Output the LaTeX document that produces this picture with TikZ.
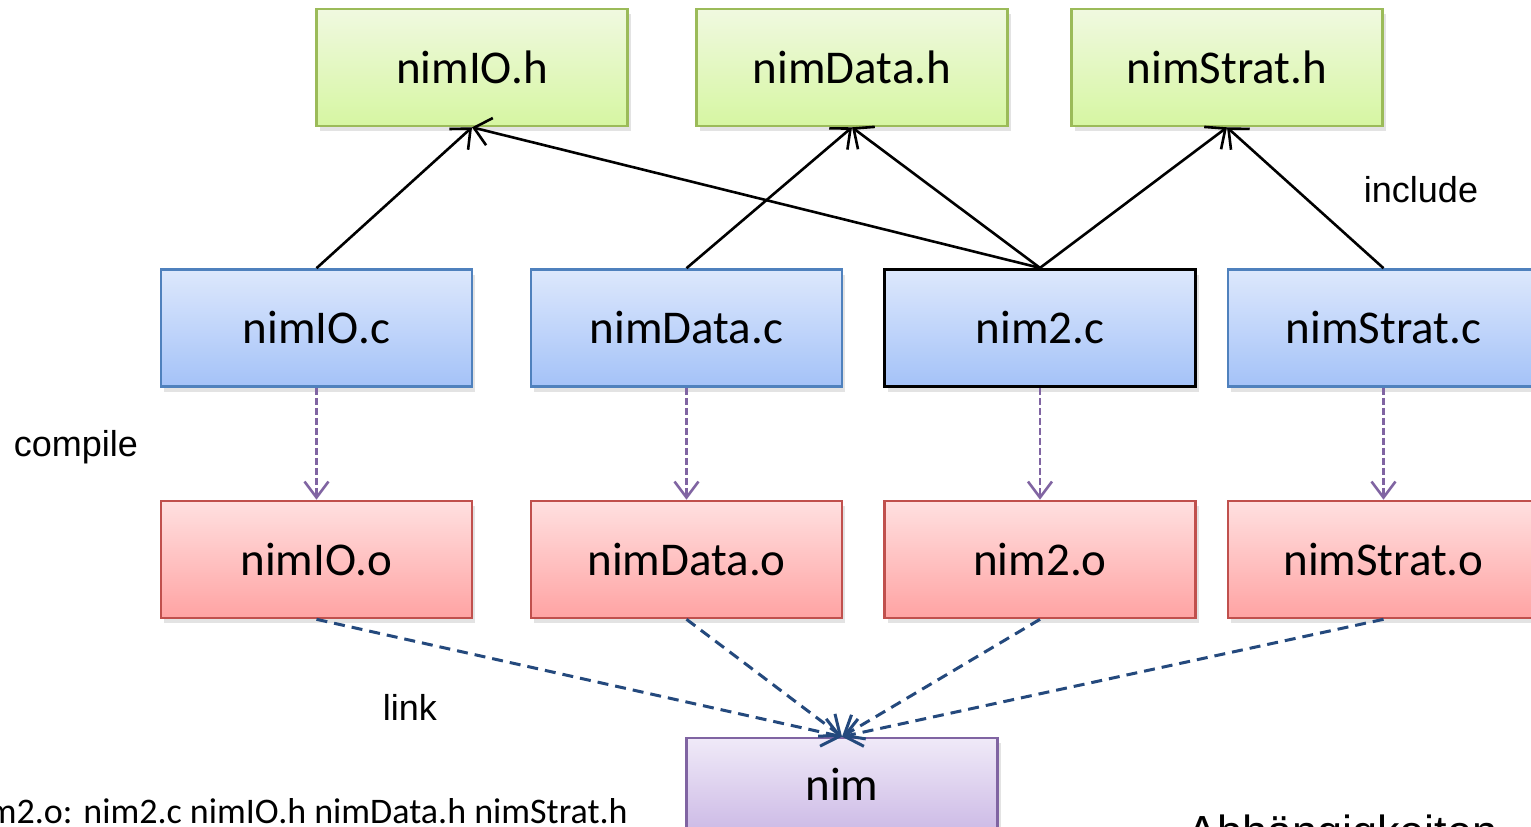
\documentclass[tikz,border=0pt]{standalone}
\usepackage{fontspec}
\setmainfont{Carlito}
\newfontfamily\arialf{Liberation Sans}
\usetikzlibrary{arrows.meta,shadows}
\definecolor{grnB}{HTML}{9BBB59}
\definecolor{grnT}{HTML}{F0F9E0}
\definecolor{grnD}{HTML}{D6F6A2}
\definecolor{bluB}{HTML}{4F81BD}
\definecolor{bluT}{HTML}{DDE8FC}
\definecolor{bluD}{HTML}{A4C2F8}
\definecolor{redB}{HTML}{C0504D}
\definecolor{redT}{HTML}{FFE0E0}
\definecolor{redD}{HTML}{FFA3A3}
\definecolor{purB}{HTML}{8064A2}
\definecolor{purT}{HTML}{F0EAF8}
\definecolor{purD}{HTML}{CDBBE6}
\definecolor{lnkc}{HTML}{24497D}
\tikzset{
  box/.style={draw, line width=2.6pt, minimum width=311pt, minimum height=117pt, inner sep=0pt,
    font=\fontsize{47}{56}\selectfont,
    drop shadow={opacity=0.22, shadow xshift=3pt, shadow yshift=-5pt}},
  hbox/.style={box, draw=grnB, top color=grnT, bottom color=grnD},
  cbox/.style={box, draw=bluB, top color=bluT, bottom color=bluD},
  obox/.style={box, draw=redB, top color=redT, bottom color=redD},
  ebox/.style={box, draw=purB, top color=purT, bottom color=purD},
  inc/.style={draw=black, line width=2.6pt, -{Straight Barb[length=16pt,width=28pt]}},
  comp/.style={draw=purB, line width=2.6pt, dash pattern=on 7pt off 3pt, -{Straight Barb[length=16pt,width=24pt]}},
  lnk/.style={draw=lnkc, line width=3pt, dash pattern=on 11pt off 7pt, -{Straight Barb[length=17pt,width=28pt]}},
  lbl/.style={font=\arialf\fontsize{36}{43}\selectfont, inner sep=0pt}
}
\begin{document}
\begin{tikzpicture}[x=1pt,y=-1pt]
\clip (0,0) rectangle (1531,827);
\fill[white] (0,0) rectangle (1531,827);
% header files
\node[hbox] (ioh) at (472,67.5) {nimIO.h};
\node[hbox] (dah) at (852,67.5) {nimData.h};
\node[hbox] (sth) at (1227,67.5) {nimStrat.h};
% sources
\node[cbox] (ioc) at (316.5,328) {nimIO.c};
\node[cbox] (dac) at (686.5,328) {nimData.c};
\node[cbox, draw=black, line width=3.2pt] (nmc) at (1040,328) {nim2.c};
\node[cbox] (stc) at (1383.5,328) {nimStrat.c};
% objects
\node[obox] (ioo) at (316.5,559.5) {nimIO.o};
\node[obox] (dao) at (686.5,559.5) {nimData.o};
\node[obox] (nmo) at (1040,559.5) {nim2.o};
\node[obox] (sto) at (1383.5,559.5) {nimStrat.o};
% executable
\node[ebox, minimum height=92pt] (nim) at (842,784) {nim};
% include
\draw[inc] (ioc.north) -- (ioh.south);
\draw[inc] (dac.north) -- (dah.south);
\draw[inc] (nmc.north) -- (ioh.south);
\draw[inc] (nmc.north) -- (dah.south);
\draw[inc] (nmc.north) -- (sth.south);
\draw[inc] (stc.north) -- (sth.south);
% compile
\draw[comp] (ioc.south) -- (ioo.north);
\draw[comp] (dac.south) -- (dao.north);
\draw[comp] (nmc.south) -- (nmo.north);
\draw[comp] (stc.south) -- (sto.north);
% link
\draw[lnk] (ioo.south) -- (nim.north);
\draw[lnk] (dao.south) -- (nim.north);
\draw[lnk] (nmo.south) -- (nim.north);
\draw[lnk] (sto.south) -- (nim.north);
% labels
\node[lbl] (linc) at (1421,190) {include};
\node[lbl] (lcomp) at (76,447) {compile};
\node[lbl] (llnk) at (410,707) {link};
\node[anchor=base east, font=\fontsize{36}{43}\selectfont, inner sep=0pt] (mk) at (628,823) {nim2.o: nim2.c nimIO.h nimData.h nimStrat.h};
\node[anchor=base west, font=\arialf\fontsize{45}{54}\selectfont, inner sep=0pt] (abh) at (1187,847) {Abhängigkeiten};
\end{tikzpicture}
\end{document}
